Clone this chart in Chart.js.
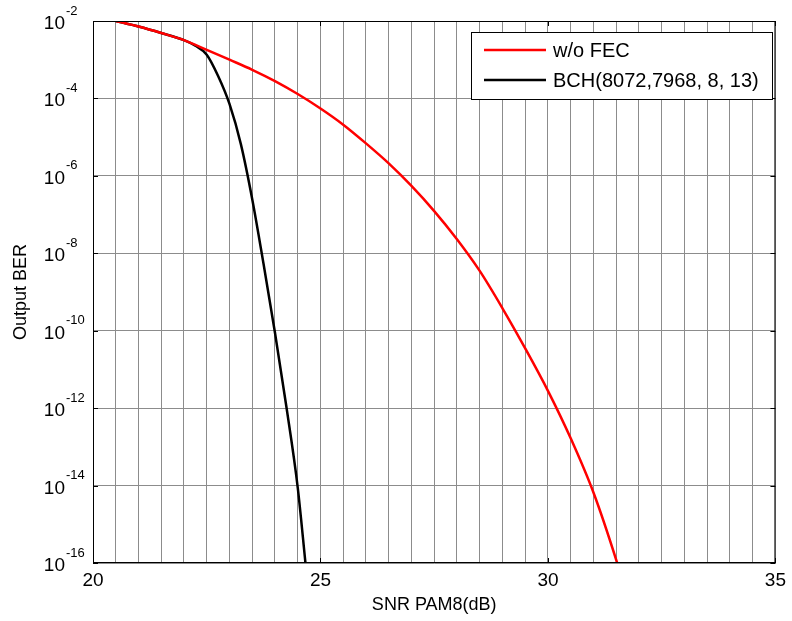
<!DOCTYPE html>
<html>
<head>
<meta charset="utf-8">
<script src="https://cdn.jsdelivr.net/npm/chart.js@4.4.0/dist/chart.umd.min.js"></script>
<style>
  html, body { margin: 0; padding: 0; background: #fff; }
</style>
</head>
<body>
<canvas id="myChart" width="792" height="621"></canvas>
<script>
// values
const snrNoFec = [20.5, 21, 21.5, 22, 22.5, 23, 23.5, 24, 24.5, 25, 25.5, 26, 26.5,
  27, 27.5, 28, 28.5, 29, 29.5, 30, 30.5, 31, 31.5, 31.52];
const berNoFec = [1.0e-2, 7.2e-3, 4.9e-3, 3.2e-3, 1.8e-3, 1.0e-3, 5.5e-4, 2.8e-4, 1.3e-4,
  5.5e-5, 2.1e-5, 6.9e-6, 2.1e-6, 5.5e-7, 1.23e-7, 2.3e-8, 3.5e-9, 3.8e-10, 3.5e-11,
  2.8e-12, 1.66e-13, 6.6e-15, 1.2e-16, 1.0e-16];

const snrBch = [20.5, 21, 21.5, 22, 22.25, 22.5, 22.75, 23, 23.25, 23.5, 23.75, 24, 24.25, 24.5, 24.67];
const berBch = [1.0e-2, 7.2e-3, 4.9e-3, 3.2e-3, 2.3e-3, 1.35e-3, 3.8e-4, 7.2e-5, 6.6e-6,
  2.5e-7, 5.2e-9, 8.9e-11, 1.1e-12, 8.9e-15, 1.0e-16];

const seriesLabels = ['w/o FEC', 'BCH(8072,7968, 8, 13)'];
const xTickLabels = [20, 25, 30, 35];
const yTickExps = [-2, -4, -6, -8, -10, -12, -14, -16];

const FONT = '"Liberation Sans", Arial, sans-serif';
Chart.defaults.font.family = FONT;
Chart.defaults.color = '#000';

// frame, inner ticks, 10^n labels and the boxed legend
const decorations = {
  id: 'decorations',
  afterDraw(chart) {
    const ctx = chart.ctx;
    const { left, right, top, bottom } = chart.chartArea;
    const xs = chart.scales.x, ys = chart.scales.y;
    ctx.save();

    ctx.strokeStyle = '#000';
    ctx.lineWidth = 1;
    ctx.strokeRect(left + 0.5, top + 0.5, right - left - 1, bottom - top - 1);

    ctx.beginPath();
    xTickLabels.forEach(v => {
      const px = Math.round(xs.getPixelForValue(v)) + 0.5;
      ctx.moveTo(px, bottom); ctx.lineTo(px, bottom - 5);
      ctx.moveTo(px, top); ctx.lineTo(px, top + 5);
    });
    yTickExps.forEach(e => {
      const py = Math.round(ys.getPixelForValue(Math.pow(10, e))) + 0.5;
      ctx.moveTo(left, py); ctx.lineTo(left + 5, py);
      ctx.moveTo(right, py); ctx.lineTo(right - 5, py);
    });
    ctx.stroke();

    ctx.fillStyle = '#000';
    ctx.textBaseline = 'alphabetic';
    yTickExps.forEach(e => {
      const py = ys.getPixelForValue(Math.pow(10, e));
      ctx.font = '19px ' + FONT;
      ctx.textAlign = 'right';
      ctx.fillText('10', 65, py + 8);
      ctx.font = '13px ' + FONT;
      ctx.textAlign = 'left';
      ctx.fillText(String(e), 66, py - 6.5);
    });

    // legend
    const bx = 471.5, by = 32.5, bw = 301, bh = 67;
    ctx.fillStyle = '#fff';
    ctx.fillRect(bx, by, bw, bh);
    ctx.strokeStyle = '#000';
    ctx.lineWidth = 1;
    ctx.strokeRect(bx, by, bw, bh);
    ctx.font = '20px ' + FONT;
    ctx.textAlign = 'left';
    ctx.textBaseline = 'middle';
    chart.data.datasets.forEach((ds, i) => {
      const ly = 50 + i * 30;
      ctx.strokeStyle = ds.borderColor;
      ctx.lineWidth = 2.5;
      ctx.beginPath();
      ctx.moveTo(484, ly); ctx.lineTo(546, ly);
      ctx.stroke();
      ctx.fillStyle = '#000';
      ctx.fillText(ds.label, 553, ly + 1);
    });
    ctx.restore();
  }
};

const ctx = document.getElementById('myChart').getContext('2d');

new Chart(ctx, {
  type: 'line',
  data: {
    datasets: [
      {
        label: seriesLabels[0],
        data: snrNoFec.map((x, i) => ({ x, y: berNoFec[i] })),
        borderColor: '#ff0000',
        borderWidth: 2.5,
        pointRadius: 0,
        cubicInterpolationMode: 'monotone'
      },
      {
        label: seriesLabels[1],
        data: snrBch.map((x, i) => ({ x, y: berBch[i] })),
        borderColor: '#000000',
        borderWidth: 2.5,
        pointRadius: 0,
        cubicInterpolationMode: 'monotone'
      }
    ]
  },
  options: {
    responsive: false,
    animation: false,
    layout: { padding: { left: 0, top: 21, right: 13, bottom: 0 } },
    plugins: {
      legend: { display: false },
      tooltip: { enabled: false }
    },
    scales: {
      x: {
        type: 'linear',
        min: 20,
        max: 35,
        afterFit: s => { s.height = 58; },
        ticks: {
          stepSize: 0.5,
          autoSkip: false,
          maxRotation: 0,
          padding: 6,
          color: '#000',
          font: { size: 19 },
          callback: v => (xTickLabels.includes(v) ? String(v) : '')
        },
        grid: { color: '#8c8c8c', lineWidth: 1, drawTicks: false },
        border: { display: false },
        title: {
          display: true,
          text: 'SNR PAM8(dB)',
          color: '#000',
          font: { size: 18 },
          padding: { top: 0, bottom: 5 }
        }
      },
      y: {
        type: 'logarithmic',
        min: 1e-16,
        max: 1e-2,
        afterBuildTicks: s => { s.ticks = yTickExps.map(e => ({ value: Math.pow(10, e) })); },
        afterFit: s => { s.width = 93; },
        ticks: { display: false },
        grid: { color: '#8c8c8c', lineWidth: 1, drawTicks: false },
        border: { display: false },
        title: {
          display: true,
          text: 'Output BER',
          color: '#000',
          font: { size: 18 },
          padding: { top: 10, bottom: 0 }
        }
      }
    }
  },
  plugins: [decorations]
});
</script>
</body>
</html>
